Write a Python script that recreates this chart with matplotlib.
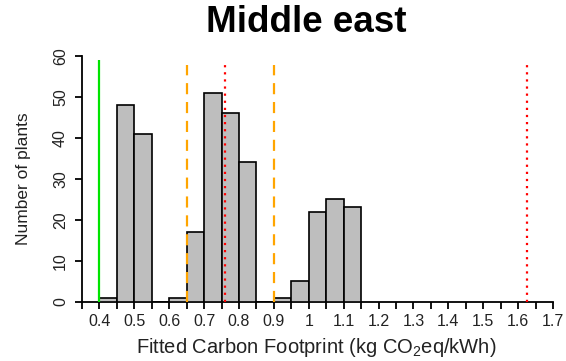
import numpy as np
import matplotlib
matplotlib.use("Agg")
import matplotlib.pyplot as plt

plt.rcParams['font.family'] = ['Liberation Sans', 'DejaVu Sans']
plt.rcParams['mathtext.fontset'] = 'custom'
plt.rcParams['mathtext.rm'] = 'Liberation Sans'
plt.rcParams['mathtext.it'] = 'Liberation Sans:italic'
plt.rcParams['mathtext.default'] = 'regular'

# Histogram: bin edges (kg CO2eq/kWh) and plant counts per bin
bin_edges = [0.40, 0.45, 0.50, 0.55, 0.60, 0.65, 0.70, 0.75, 0.80,
             0.85, 0.90, 0.95, 1.00, 1.05, 1.10, 1.15]
counts = [1, 48, 41, 0, 1, 17, 51, 46, 34, 0, 1, 5, 22, 25, 23]

# Reference lines
green_line = [0.40]
orange_lines = [0.65, 0.90]
red_lines = [0.76, 1.625]

x_ticks = [round(0.35 + 0.05 * i, 2) for i in range(28)]
x_labels = ["", "0.4", "", "0.5", "", "0.6", "", "0.7", "", "0.8", "", "0.9", "",
            "1", "", "1.1", "", "1.2", "", "1.3", "", "1.4", "", "1.5", "", "1.6", "", "1.7"]
y_ticks = [0, 10, 20, 30, 40, 50, 60]

fig = plt.figure(figsize=(5.66, 3.61), dpi=100)
ax = fig.add_axes([82 / 566, 1 - 301.7 / 361, 471 / 566, 246 / 361])

lefts = np.array(bin_edges[:-1])
widths = np.diff(bin_edges)
ax.bar(lefts, counts, width=widths, align='edge', color='#BEBEBE',
       edgecolor='black', linewidth=1.2, zorder=2)

ax.vlines(green_line, 0, 59, colors='#00E400', linewidth=1.6, zorder=3)
ax.vlines(orange_lines, 0, 57.8, colors='#FFA500', linewidth=1.6,
          linestyles=[(0, (5, 3.5))], zorder=3)
ax.vlines(red_lines, 0, 58.2, colors='#FF0000', linewidth=1.6,
          linestyles=[(0, (1, 2.2))], zorder=3)

ax.set_xlim(0.35, 1.7)
ax.set_ylim(0, 60)
for s in ['top', 'right']:
    ax.spines[s].set_visible(False)
for s in ['left', 'bottom']:
    ax.spines[s].set_linewidth(1.3)
    ax.spines[s].set_zorder(1)

ax.set_xticks(x_ticks)
ax.set_xticklabels(x_labels)
ax.set_yticks(y_ticks)
ax.tick_params(axis='both', direction='out', length=5, width=1.3,
               labelsize=11.5, colors='black', labelcolor='#222222')
ax.tick_params(axis='x', pad=4)
ax.tick_params(axis='y', pad=5)
for lab in ax.get_yticklabels():
    lab.set_rotation(90)
    lab.set_va('center')

ax.set_ylabel("Number of plants", fontsize=12.5, color='#222222')
ax.yaxis.set_label_coords(-0.108, 0.5)
ax.set_xlabel("Fitted Carbon Footprint (kg CO$_2$eq/kWh)", fontsize=14.5, color='#222222')
ax.xaxis.set_label_coords(0.497, -0.139)

fig.text(306 / 566, 1 - 23 / 361, "Middle east", fontsize=26.5, fontweight='bold',
         ha='center', va='center')

fig.savefig("out.png", dpi=100)
